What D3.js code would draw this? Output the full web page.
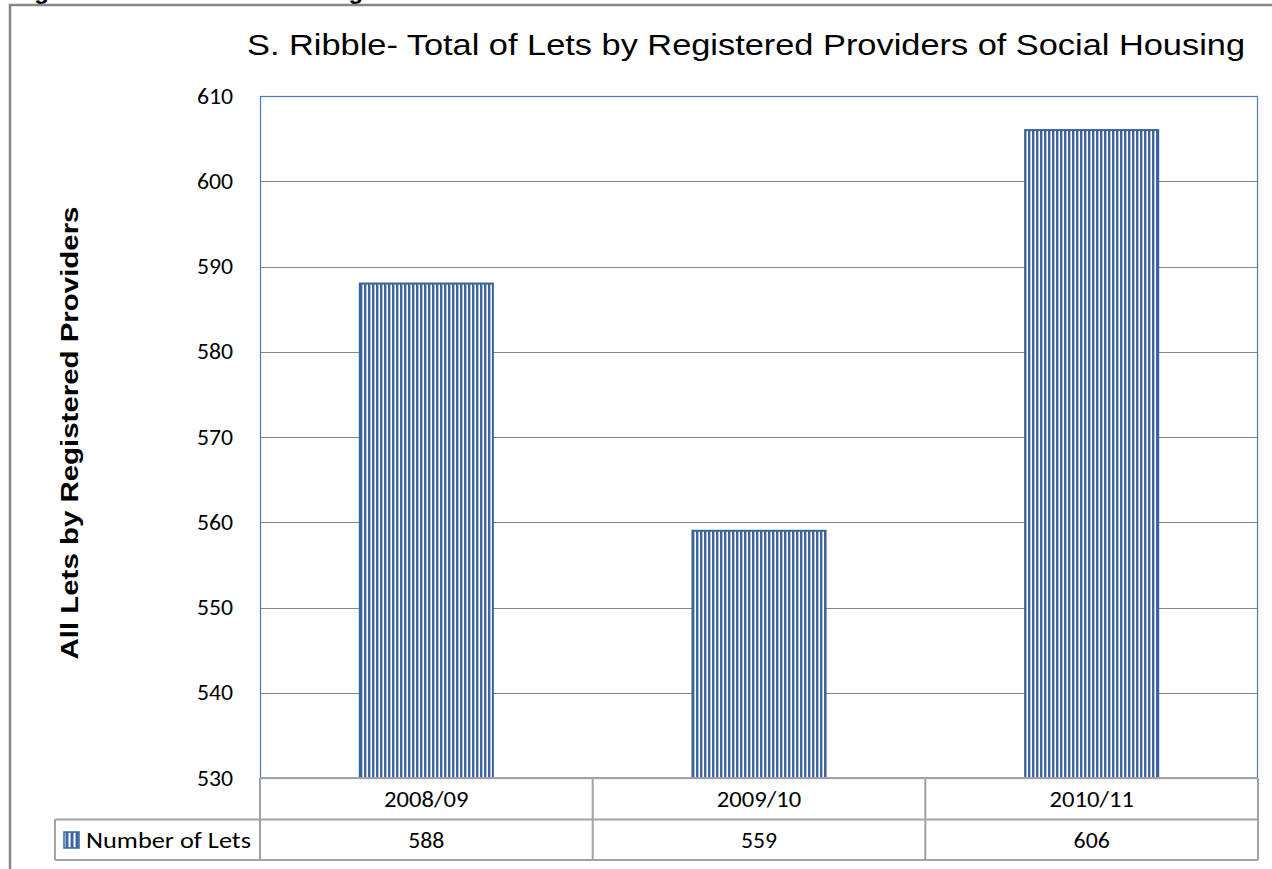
<!DOCTYPE html>
<html>
<head>
<meta charset="utf-8">
<script src="https://cdn.jsdelivr.net/npm/d3@7"></script>
<style>
  html, body { margin: 0; padding: 0; background: #fff; }
  svg { display: block; }
</style>
</head>
<body>
<svg id="chart" width="1272" height="869"></svg>
<script>
// Lets by registered providers of social housing, South Ribble
const categories = ["2008/09", "2009/10", "2010/11"];
const seriesName = "Number of Lets";
const lets = [588, 559, 606];
const yTicks = [530, 540, 550, 560, 570, 580, 590, 600, 610];
const chartTitle = "S. Ribble- Total of Lets by Registered Providers of Social Housing";
const yAxisTitle = "All Lets by Registered Providers";
const captionText = "Figure 9: Total Lets in Housing";

const svg = d3.select("#chart");
const W = 1272, H = 869;
const plot = { left: 260, right: 1258, top: 96, bottom: 778 };
const tableRowH = 40.5;
const bodyFont = "Calibri, Carlito, Lato, 'Open Sans', sans-serif";
const bodySize = 22;
const headFont = "Arial, 'Liberation Sans', sans-serif";

// widen a text run by a factor, keeping its anchor
function widen(sel, k) {
  sel.each(function () {
    const len = this.getComputedTextLength();
    d3.select(this)
      .attr("textLength", len * k)
      .attr("lengthAdjust", "spacingAndGlyphs");
  });
}

// stripe fills used by the bars and the legend key
const defs = svg.append("defs");
const pat = defs.append("pattern")
  .attr("id", "vstripe")
  .attr("patternUnits", "userSpaceOnUse")
  .attr("width", 4).attr("height", 4);
pat.append("rect").attr("width", 4).attr("height", 4).attr("fill", "#ffffff");
pat.append("rect").attr("x", 0).attr("width", 2.4).attr("height", 4).attr("fill", "#3d67a1");

const keyPat = defs.append("pattern")
  .attr("id", "keystripe")
  .attr("patternUnits", "userSpaceOnUse")
  .attr("x", 65.5).attr("width", 5).attr("height", 5);
keyPat.append("rect").attr("width", 5).attr("height", 5).attr("fill", "#3d67a1");
keyPat.append("rect").attr("x", 3).attr("width", 2).attr("height", 5).attr("fill", "#ffffff");

// caption line above the chart frame, mostly clipped by the page top
svg.append("text")
  .attr("x", 13).attr("y", -1)
  .attr("font-family", headFont)
  .attr("font-weight", "bold")
  .attr("font-size", 24)
  .attr("fill", "#000")
  .text(captionText);

// chart frame
svg.append("rect")
  .attr("x", 10).attr("y", 5)
  .attr("width", W + 20).attr("height", H + 20)
  .attr("fill", "none")
  .attr("stroke", "#878787")
  .attr("stroke-width", 2.5);

// title
svg.append("text")
  .attr("x", 746).attr("y", 55)
  .attr("text-anchor", "middle")
  .attr("font-family", headFont)
  .attr("font-size", 30)
  .attr("fill", "#000")
  .attr("textLength", 998)
  .attr("lengthAdjust", "spacingAndGlyphs")
  .text(chartTitle);

// scales
const x = d3.scaleBand()
  .domain(categories)
  .range([plot.left, plot.right])
  .paddingInner(0.6)
  .paddingOuter(0.3);
const xCell = d3.scaleBand()
  .domain(categories)
  .range([plot.left, plot.right]);
const y = d3.scaleLinear()
  .domain([530, 610])
  .range([plot.bottom, plot.top]);

// gridlines
svg.append("g")
  .selectAll("line")
  .data(yTicks.filter(t => t !== 530 && t !== 610))
  .join("line")
  .attr("x1", plot.left).attr("x2", plot.right)
  .attr("y1", d => Math.round(y(d)) + 0.5)
  .attr("y2", d => Math.round(y(d)) + 0.5)
  .attr("stroke", "#868686")
  .attr("stroke-width", 1);

// y axis labels
const yAxis = d3.axisLeft(y).tickValues(yTicks).tickSize(0).tickPadding(27);
const yG = svg.append("g")
  .attr("transform", `translate(${plot.left},0)`)
  .call(yAxis);
yG.select(".domain").remove();
yG.selectAll("text")
  .attr("font-family", bodyFont)
  .attr("font-size", bodySize)
  .attr("fill", "#000")
  .call(widen, 1.08);

// y axis title
svg.append("text")
  .attr("transform", `translate(78,${433}) rotate(-90)`)
  .attr("text-anchor", "middle")
  .attr("font-family", headFont)
  .attr("font-weight", "bold")
  .attr("font-size", 24)
  .attr("fill", "#000")
  .attr("textLength", 453)
  .attr("lengthAdjust", "spacingAndGlyphs")
  .text(yAxisTitle);

// bars
svg.append("g")
  .selectAll("rect")
  .data(lets)
  .join("rect")
  .attr("x", (d, i) => x(categories[i]))
  .attr("y", d => y(d))
  .attr("width", x.bandwidth())
  .attr("height", d => y(530) - y(d))
  .attr("fill", "url(#vstripe)")
  .attr("stroke", "#3a6198")
  .attr("stroke-width", 2);

// plot area border
svg.append("rect")
  .attr("x", plot.left + 0.5).attr("y", plot.top + 0.5)
  .attr("width", plot.right - plot.left - 1)
  .attr("height", plot.bottom - plot.top)
  .attr("fill", "none")
  .attr("stroke", "#4f7ab3")
  .attr("stroke-width", 1.2);

// data table under the plot
const tbl = svg.append("g")
  .attr("stroke", "#a3a3a3")
  .attr("stroke-width", 2)
  .attr("fill", "none");
const r0 = plot.bottom, r1 = plot.bottom + tableRowH + 1, r2 = r1 + tableRowH;
const legendLeft = 55;
tbl.append("line").attr("x1", plot.left).attr("x2", plot.right).attr("y1", r0).attr("y2", r0);
tbl.append("line").attr("x1", legendLeft).attr("x2", plot.right).attr("y1", r1).attr("y2", r1);
tbl.append("line").attr("x1", legendLeft).attr("x2", plot.right).attr("y1", r2).attr("y2", r2);
tbl.append("line").attr("x1", legendLeft).attr("x2", legendLeft).attr("y1", r1).attr("y2", r2);
const dividers = [plot.left].concat(categories.map(c => xCell(c) + xCell.bandwidth()));
tbl.selectAll("line.div")
  .data(dividers)
  .join("line")
  .attr("class", "div")
  .attr("x1", d => d).attr("x2", d => d)
  .attr("y1", r0).attr("y2", r2);

// category row
svg.append("g")
  .selectAll("text")
  .data(categories)
  .join("text")
  .attr("x", d => xCell(d) + xCell.bandwidth() / 2)
  .attr("y", (r0 + r1) / 2 + 8)
  .attr("text-anchor", "middle")
  .attr("font-family", bodyFont)
  .attr("font-size", bodySize)
  .attr("fill", "#000")
  .text(d => d)
  .call(widen, 1.12);

// value row
svg.append("g")
  .selectAll("text")
  .data(lets)
  .join("text")
  .attr("x", (d, i) => xCell(categories[i]) + xCell.bandwidth() / 2)
  .attr("y", (r1 + r2) / 2 + 8)
  .attr("text-anchor", "middle")
  .attr("font-family", bodyFont)
  .attr("font-size", bodySize)
  .attr("fill", "#000")
  .text(d => d)
  .call(widen, 1.08);

// legend key and series name
svg.append("rect")
  .attr("x", 64).attr("y", 832)
  .attr("width", 15).attr("height", 16)
  .attr("fill", "url(#keystripe)")
  .attr("stroke", "#3a6198")
  .attr("stroke-width", 1.5);
svg.append("text")
  .attr("x", 86).attr("y", (r1 + r2) / 2 + 8)
  .attr("font-family", bodyFont)
  .attr("font-size", bodySize)
  .attr("fill", "#000")
  .attr("textLength", 165)
  .attr("lengthAdjust", "spacingAndGlyphs")
  .text(seriesName);
</script>
</body>
</html>
